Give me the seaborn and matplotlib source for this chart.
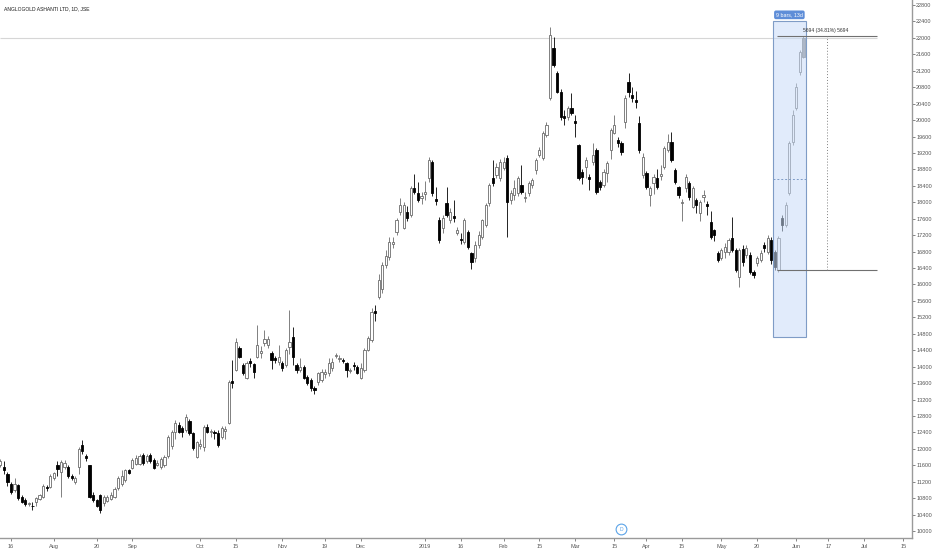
import numpy as np
import pandas as pd
import matplotlib
matplotlib.use("Agg")
import matplotlib.pyplot as plt
import seaborn as sns
from matplotlib.patches import Rectangle

# Datos diarios (OHLC), Jul 2018 - Jun 2019
opens = [
    11600, 11560, 11400, 11150, 11000, 11120, 10830, 10760, 10650, 10620,
    10700, 10780, 10820, 11080, 11080, 11300, 11620, 11450, 11560, 11560,
    11330, 11200, 11560, 12100, 11830, 11600, 10880, 10750, 10880, 10680,
    10730, 10780, 10840, 11060, 11150, 11250, 11480, 11540, 11640, 11640,
    11860, 11700, 11860, 11730, 11620, 11560, 11600, 11820, 12080, 12400,
    12580, 12510, 12460, 12680, 12390, 11800, 12080, 12050, 12530, 12400,
    12420, 12390, 12290, 12430, 12630, 13650, 13920, 14450, 14040, 13730,
    14130, 14070, 14240, 14330, 14580, 14520, 14330, 14200, 14120, 14090,
    14040, 14480, 14720, 14040, 13920, 14000, 13750, 13680, 13470, 13620,
    13680, 13820, 13850, 13970, 14260, 14180, 14170, 14090, 13900, 14050,
    14000, 13730, 13920, 14400, 14650, 15360, 15700, 15880, 16480, 16670,
    16990, 17280, 17770, 17380, 17760, 17690, 18350, 18230, 18100, 18200,
    18590, 18980, 18080, 17570, 17370, 17980, 17570, 17660, 17250, 17100,
    17030, 17280, 16770, 16640, 16960, 17150, 17450, 17980, 18590, 18660,
    18590, 18830, 19080, 18060, 18180, 18230, 18420, 18100, 18230, 18420,
    18790, 19150, 19080, 19640, 20540, 21750, 21150, 20690, 20100, 20080,
    20290, 19980, 19390, 18740, 18860, 18610, 18980, 19270, 18490, 18420,
    18710, 19270, 19690, 19520, 19440, 19950, 20930, 20610, 20490, 19930,
    18660, 18710, 18180, 18470, 18590, 18640, 18860, 19270, 19470, 18790,
    18370, 17980, 18350, 18470, 17890, 18060, 17740, 18130, 17960, 17520,
    17330, 16770, 16650, 16790, 16790, 17130, 16840, 16180, 16860, 16720,
    16720, 16300, 16520, 16600, 16960, 16790, 17080, 16790, 16350, 17620,
    17450, 18220, 19460, 20290, 21170, 21530,
]
highs = [
    11750, 11700, 11450, 11200, 11300, 11150, 10870, 10800, 10720, 10700,
    10820, 10900, 11150, 11120, 11380, 11450, 11700, 11720, 11720, 11600,
    11380, 11350, 12050, 12220, 11870, 11620, 10950, 10780, 10900, 10870,
    10880, 10950, 11080, 11330, 11480, 11500, 11520, 11780, 11850, 11880,
    11900, 11880, 11900, 11780, 11720, 11800, 11850, 12350, 12450, 12700,
    12650, 12550, 12850, 12720, 12420, 12200, 12250, 12580, 12600, 12480,
    12460, 12450, 12560, 12560, 13680, 14170, 14700, 14500, 14080, 14150,
    14200, 14100, 15020, 14500, 14900, 14750, 14380, 14250, 14530, 14150,
    14450, 15380, 14960, 14100, 14200, 14050, 13800, 13720, 13520, 13880,
    13950, 13950, 14200, 14200, 14330, 14280, 14220, 14120, 13970, 14120,
    14050, 14100, 14450, 14750, 15420, 15500, 16250, 16550, 16850, 17150,
    17150, 17620, 18100, 18000, 17900, 18400, 18680, 18500, 18250, 18520,
    19100, 19030, 18370, 17650, 17700, 18370, 17850, 18060, 17400, 17250,
    17620, 17330, 16800, 17050, 17300, 17600, 17980, 18470, 19030, 18950,
    19050, 19100, 19150, 18300, 18550, 18650, 18900, 18250, 18520, 18600,
    19080, 19350, 19740, 19950, 22260, 22020, 21200, 20750, 20250, 20350,
    20660, 20120, 19420, 18800, 19100, 18700, 19450, 19320, 18550, 18800,
    19000, 19800, 20130, 19600, 19500, 20600, 21150, 20800, 20720, 20100,
    19200, 18750, 18400, 18700, 18800, 18900, 19380, 19650, 19700, 18830,
    18400, 18080, 18680, 18520, 18400, 18100, 18050, 18300, 18020, 17800,
    17350, 16820, 16900, 17000, 17130, 17640, 16900, 16900, 16950, 16950,
    16780, 16350, 16700, 16850, 17030, 17200, 17150, 16850, 17180, 17680,
    18000, 19500, 20250, 20900, 21700, 22051,
]
lows = [
    11550, 11380, 11100, 10900, 10950, 10750, 10680, 10620, 10620, 10520,
    10620, 10750, 10800, 10980, 11050, 11250, 11350, 10830, 11500, 11300,
    11250, 11150, 11400, 11870, 11700, 10800, 10700, 10580, 10450, 10600,
    10700, 10750, 10800, 11000, 11100, 11200, 11380, 11500, 11600, 11600,
    11600, 11650, 11650, 11500, 11580, 11520, 11560, 11780, 12000, 12250,
    12380, 12300, 12420, 12350, 11980, 11780, 12000, 11950, 12380, 12300,
    12250, 12050, 12250, 12250, 12600, 13480, 13900, 14200, 13800, 13700,
    14000, 13730, 14200, 14200, 14500, 14450, 13950, 14100, 14050, 13900,
    14000, 14300, 14030, 13850, 13880, 13700, 13550, 13420, 13330, 13560,
    13620, 13720, 13780, 13900, 14200, 14120, 14080, 13750, 13850, 13920,
    13820, 13700, 13880, 14380, 14600, 15100, 15650, 15800, 16400, 16600,
    16900, 17200, 17700, 17350, 17550, 17650, 18200, 18000, 17950, 18050,
    18500, 18150, 17930, 17000, 17250, 17640, 17500, 17520, 17200, 16980,
    16990, 16860, 16380, 16550, 16900, 17100, 17400, 17920, 18400, 18600,
    18520, 18780, 17150, 17950, 18050, 18150, 18200, 18000, 18150, 18350,
    18700, 19100, 19020, 19600, 20500, 21300, 20650, 20000, 19880, 20000,
    20120, 19600, 18550, 18450, 18600, 18300, 18900, 18200, 18300, 18380,
    18500, 19050, 19650, 19350, 19150, 19800, 20550, 20450, 20300, 19200,
    18600, 18320, 17900, 18200, 18320, 18550, 18820, 19230, 18980, 18450,
    18100, 17550, 18250, 18050, 17850, 17750, 17550, 18000, 17700, 17100,
    17050, 16550, 16600, 16650, 16720, 16800, 16300, 15940, 16450, 16650,
    16250, 16150, 16450, 16550, 16800, 16750, 16500, 16350, 16300, 17300,
    17400, 18180, 19400, 20250, 21100, 21500,
]
closes = [
    11700, 11480, 11200, 10950, 11150, 10800, 10720, 10650, 10690, 10600,
    10800, 10880, 11100, 11050, 11350, 11420, 11520, 11680, 11660, 11350,
    11290, 11300, 12000, 11940, 11780, 10830, 10760, 10620, 10520, 10820,
    10830, 10880, 11020, 11300, 11330, 11480, 11420, 11730, 11780, 11820,
    11650, 11820, 11700, 11540, 11660, 11750, 11800, 12300, 12400, 12630,
    12420, 12420, 12780, 12390, 12020, 12170, 12120, 12530, 12420, 12430,
    12380, 12100, 12510, 12490, 13630, 13610, 14600, 14240, 13850, 14090,
    14080, 13870, 14530, 14380, 14680, 14680, 14170, 14170, 14240, 13970,
    14400, 14600, 14240, 13920, 14000, 13730, 13600, 13480, 13430, 13850,
    13870, 13860, 14090, 14110, 14290, 14220, 14150, 13920, 13920, 14020,
    13850, 13970, 14400, 14700, 15330, 15300, 16110, 16470, 16700, 17030,
    17030, 17570, 17940, 17940, 17620, 18350, 18250, 18060, 18150, 18250,
    19030, 18230, 18040, 17080, 17620, 17690, 17760, 17620, 17320, 17080,
    17570, 16910, 16550, 16960, 17200, 17570, 17930, 18420, 18470, 18860,
    18980, 18980, 18010, 18230, 18350, 18590, 18250, 18130, 18470, 18540,
    19030, 19270, 19690, 19880, 22070, 21340, 20690, 20080, 20050, 20290,
    20170, 19930, 18590, 18620, 19030, 18560, 19150, 18250, 18370, 18740,
    18960, 19760, 19880, 19440, 19220, 20540, 20680, 20540, 20440, 19270,
    19100, 18370, 18350, 18620, 18370, 18680, 19320, 19470, 19030, 18490,
    18180, 18010, 18620, 18130, 18350, 17930, 18010, 18180, 17910, 17160,
    17200, 16600, 16840, 16910, 17080, 16840, 16350, 16840, 16550, 16890,
    16300, 16230, 16650, 16770, 16890, 17130, 16600, 16430, 17130, 17450,
    17930, 19440, 20120, 20800, 21650, 22000,
]

# Etiquetas del eje x (indice de barra)
tick_idx = [3, 15, 27, 37, 56, 66, 79, 91, 101, 119, 129, 141, 151, 161,
            172, 181, 191, 202, 212, 223, 232, 242, 253]
tick_labels = ["16", "Aug", "20", "Sep", "Oct", "15", "Nov", "19", "Dec",
               "2019", "16", "Feb", "15", "Mar", "15", "Apr", "15", "May",
               "20", "Jun", "17", "Jul", "15"]

# Herramientas dibujadas
titulo = "ANGLOGOLD ASHANTI LTD, 1D, JSE"
rango_inicio, rango_fin = 217, 225
rango_texto = "9 bars, 13d"
rango_bajo, rango_alto = 14722, 22411
medida_base = 16357
medida_cambio = 5694
medida_pct = 34.81
linea_h = 22000
dividendo_idx = 174

df = pd.DataFrame({"open": opens, "high": highs, "low": lows, "close": closes})
df["x"] = np.arange(len(df))
df["high"] = df[["open", "high", "close"]].max(axis=1)
df["low"] = df[["open", "low", "close"]].min(axis=1)
df["up"] = df["close"] >= df["open"]

sns.set_theme(style="white")
plt.rcParams["font.family"] = ["Liberation Sans", "DejaVu Sans"]

fig = plt.figure(figsize=(9.32, 5.5), dpi=100)
ax = fig.add_axes([0, 12 / 550, 912 / 932, 538 / 550])
ax.set_xlim(-0.08, 255.4)
ax.set_ylim(9832, 22922)

colores_borde = np.where(df["up"], "#6b6b6b", "#000000")
colores_cuerpo = np.where(df["up"], "#ffffff", "#000000")
colores_cuerpo[-1] = "#8c8c8c"
colores_borde[-1] = "#707070"

ax.hlines(linea_h, -0.1, 245.6, color="#d6d6d6", lw=0.8, zorder=1)

ax.vlines(df["x"], df["low"], df["high"], colors=colores_borde, lw=0.6, zorder=2)
fondo = df[["open", "close"]].min(axis=1)
alto = np.maximum((df["close"] - df["open"]).abs(), 22)
ax.bar(df["x"], alto, bottom=fondo, width=0.62, color=colores_cuerpo,
       edgecolor=colores_borde, linewidth=0.6, zorder=3)

# Rango de fechas
caja = Rectangle((rango_inicio - 0.6, rango_bajo), rango_fin - rango_inicio + 1.3,
                 rango_alto - rango_bajo, facecolor="#c9dcf8", alpha=0.55,
                 edgecolor="none", zorder=4)
ax.add_patch(caja)
ax.add_patch(Rectangle((rango_inicio - 0.6, rango_bajo), rango_fin - rango_inicio + 1.3,
                       rango_alto - rango_bajo, facecolor="none",
                       edgecolor="#7f9cc6", lw=0.8, zorder=5))
medio = (rango_alto + rango_bajo) / 2
ax.hlines(medio, rango_inicio - 0.6, rango_fin + 0.7, color="#7f9cc6", lw=0.7,
          linestyles=(0, (2, 2)), zorder=5)
ax.text((rango_inicio + rango_fin) / 2 + 0.05, rango_alto + 150, rango_texto,
        ha="center", va="center", fontsize=3.8, color="white", zorder=6,
        bbox=dict(boxstyle="round,pad=0.35", fc="#5f8ed8", ec="none"))

# Medicion de precio
tope = medida_base + medida_cambio
ax.hlines([tope, medida_base], rango_inicio + 0.6, 245.6, color="#707070", lw=0.8, zorder=5)
ax.vlines(231.6, medida_base, tope, color="#808080", lw=0.7,
          linestyles=(0, (1, 2)), zorder=5)
ax.text(rango_fin - 0.2, tope + 130,
        f"{medida_cambio} ({medida_pct:.2f}%) {medida_cambio}",
        fontsize=3.6, color="#333333", va="center", ha="left", zorder=6)

# Marca de dividendo
ax.scatter([dividendo_idx], [10040], s=60, facecolors="white",
           edgecolors="#5aa3e8", linewidths=0.8, zorder=6)
ax.text(dividendo_idx, 10040, "D", fontsize=3.6, color="#5aa3e8",
        ha="center", va="center", zorder=7)

ax.yaxis.tick_right()
ax.set_yticks(np.arange(10000, 22801, 400))
ax.set_yticklabels([str(v) for v in range(10000, 22801, 400)])
ax.set_xticks(tick_idx)
ax.set_xticklabels(tick_labels)
ax.tick_params(axis="y", labelsize=4, colors="#555555", length=2, width=0.5,
               pad=1, right=True, left=False)
ax.tick_params(axis="x", labelsize=4, colors="#555555", length=2, width=0.5,
               pad=2, bottom=True)

for lado in ["top", "left"]:
    ax.spines[lado].set_visible(False)
for lado in ["bottom", "right"]:
    ax.spines[lado].set_color("#9a9a9a")
    ax.spines[lado].set_linewidth(1.0)
ax.grid(False)

fig.text(4 / 932, 1 - 9 / 550, titulo, fontsize=3.6, color="#1a1a1a",
         va="center", ha="left")

fig.savefig("out.png", dpi=100)
plt.close(fig)
